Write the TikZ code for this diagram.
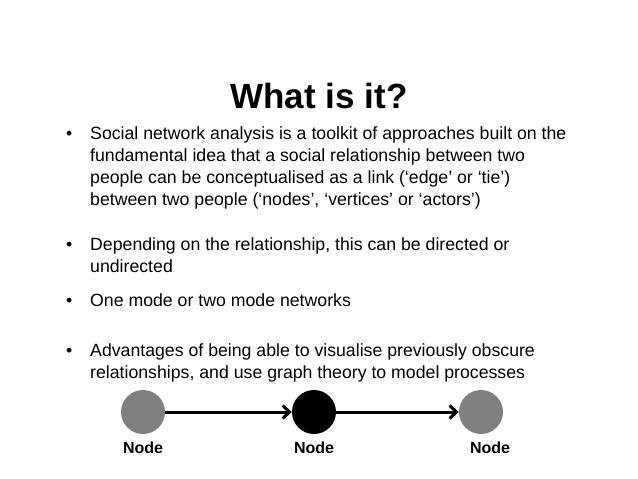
\documentclass[tikz,border=0pt]{standalone}
\usepackage{fontspec}
\setmainfont{Liberation Sans}
\usetikzlibrary{arrows.meta}
\definecolor{nGCol}{rgb}{0.5, 0.5, 0.5}

\begin{document}
\begin{tikzpicture}[x=1pt,y=-1pt,
    txt/.style={anchor=base west, font=\fontsize{17.7}{22}\selectfont, inner sep=0},
    vert/.style={circle, minimum size=44, inner sep=0},
    lbl/.style={font=\fontsize{16}{19}\selectfont\bfseries}]
  \useasboundingbox (0,0) rectangle (638,479);
  \node [font=\fontsize{35}{40}\selectfont\bfseries] (title) at (319,96) {What is it?};
  % bullets
  \foreach \y in {139,250,306,356}
    \node [txt] at (66,\y) {\textbullet};
  \node [txt] (l1) at (90,139) {Social network analysis is a toolkit of approaches built on the};
  \node [txt] (l2) at (90,161) {fundamental idea that a social relationship between two};
  \node [txt] (l3) at (90,183) {people can be conceptualised as a link (‘edge’ or ‘tie’)};
  \node [txt] (l4) at (90,205) {between two people (‘nodes’, ‘vertices’ or ‘actors’)};
  \node [txt] (l5) at (90,250) {Depending on the relationship, this can be directed or};
  \node [txt] (l6) at (90,272) {undirected};
  \node [txt] (l7) at (90,306) {One mode or two mode networks};
  \node [txt] (l8) at (90,356) {Advantages of being able to visualise previously obscure};
  \node [txt] (l9) at (90,378) {relationships, and use graph theory to model processes};
  % network
  \node [vert, fill=nGCol] (n1) at (143,412) {};
  \node [vert, fill=black] (n2) at (314,412) {};
  \node [vert, fill=nGCol] (n3) at (481,412) {};
  \draw [-{Straight Barb[length=7pt,width=13pt]}, line width=3] (n1) -- (n2);
  \draw [-{Straight Barb[length=7pt,width=13pt]}, line width=3] (n2) -- (n3);
  \node [lbl] (t1) at (143,448) {Node};
  \node [lbl] (t2) at (314,448) {Node};
  \node [lbl] (t3) at (490,448) {Node};
\end{tikzpicture}
\end{document}
